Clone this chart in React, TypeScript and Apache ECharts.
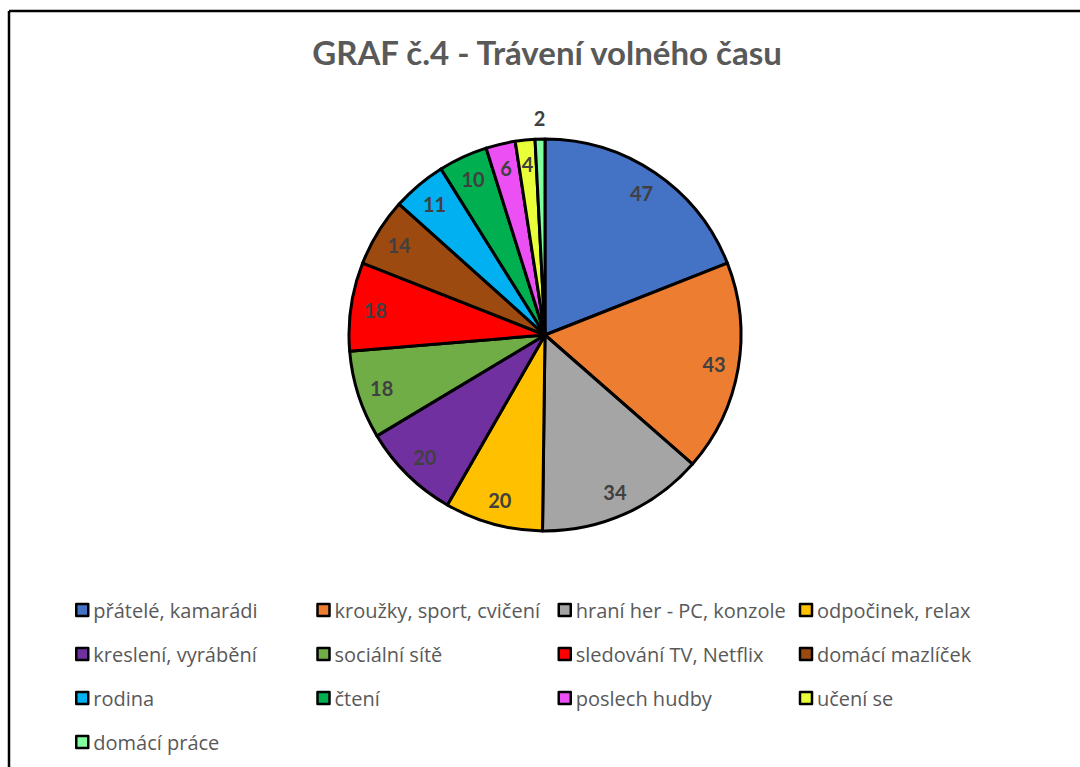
import React, { useEffect, useRef } from "react";
import * as echarts from "echarts";

const titleText = "GRAF č.4 - Trávení volného času";

const categories = [
  "přátelé, kamarádi",
  "kroužky, sport, cvičení",
  "hraní her - PC, konzole",
  "odpočinek, relax",
  "kreslení, vyrábění",
  "sociální sítě",
  "sledování TV, Netflix",
  "domácí mazlíček",
  "rodina",
  "čtení",
  "poslech hudby",
  "učení se",
  "domácí práce",
];

const values = [47, 43, 34, 20, 20, 18, 18, 14, 11, 10, 6, 4, 2];

const colors = [
  "#4472C4",
  "#ED7D31",
  "#A5A5A5",
  "#FFC000",
  "#7030A0",
  "#70AD47",
  "#FF0000",
  "#9C4A0F",
  "#00B0F0",
  "#00B050",
  "#EC50F5",
  "#E8FF3A",
  "#80FF9F",
];

// indices whose value label sits outside the pie
const outsideLabels = [12];

const FONT = "Lato";
const LEGEND_FONT = "Open Sans";

export default function App() {
  const ref = useRef<HTMLDivElement>(null);

  useEffect(() => {
    if (!ref.current) return;
    const chart = echarts.init(ref.current, null, { renderer: "svg" });
    const R = 196;
    const center = [545, 335];

    const labelStyle = {
      show: true,
      position: "inside",
      formatter: "{c}",
      color: "#404040",
      fontWeight: "bold",
      fontSize: 20,
      fontFamily: FONT,
    };

    chart.setOption({
      animation: false,
      backgroundColor: "#ffffff",
      title: {
        text: titleText,
        left: 547,
        textAlign: "center",
        top: 35,
        padding: 0,
        textStyle: {
          color: "#595959",
          fontSize: 33,
          fontWeight: "bold",
          fontFamily: FONT,
        },
      },
      legend: {
        data: categories,
        left: 75,
        top: 593,
        padding: 0,
        width: 960,
        orient: "horizontal",
        icon: "rect",
        itemWidth: 12,
        itemHeight: 12,
        itemGap: 10,
        itemStyle: { borderColor: "#000", borderWidth: 2.5 },
        selectedMode: false,
        formatter: "{a|{name}}",
        textStyle: {
          color: "#595959",
          fontSize: 20,
          fontFamily: LEGEND_FONT,
          rich: {
            a: {
              width: 213,
              height: 34,
              lineHeight: 34,
              color: "#595959",
              fontSize: 20,
              fontFamily: LEGEND_FONT,
            },
          },
        },
      },
      graphic: [
        {
          type: "line",
          shape: { x1: 9, y1: 11, x2: 9, y2: 767 },
          style: { stroke: "#000", lineWidth: 2.5 },
        },
        {
          type: "line",
          shape: { x1: 9, y1: 11, x2: 1080, y2: 11 },
          style: { stroke: "#000", lineWidth: 2.5 },
        },
      ],
      series: [
        {
          type: "pie",
          center,
          radius: [0, R],
          startAngle: 90,
          clockwise: true,
          avoidLabelOverlap: false,
          label: { show: false },
          labelLine: { show: false },
          emphasis: { disabled: true },
          itemStyle: { borderColor: "#000", borderWidth: 3 },
          data: categories.map((name, i) => ({
            name,
            value: values[i],
            itemStyle: { color: colors[i] },
          })),
        },
        {
          type: "pie",
          center,
          radius: [R * 0.72, R],
          startAngle: 90,
          clockwise: true,
          silent: true,
          avoidLabelOverlap: false,
          emphasis: { disabled: true },
          itemStyle: { color: "rgba(0,0,0,0)", borderWidth: 0 },
          label: labelStyle,
          labelLine: { show: false },
          data: categories.map((name, i) => ({
            name,
            value: values[i],
            label: { show: !outsideLabels.includes(i) },
          })),
        },
        {
          type: "pie",
          center,
          radius: [R, R * 1.18],
          startAngle: 90,
          clockwise: true,
          silent: true,
          avoidLabelOverlap: false,
          emphasis: { disabled: true },
          itemStyle: { color: "rgba(0,0,0,0)", borderWidth: 0 },
          label: labelStyle,
          labelLine: { show: false },
          data: categories.map((name, i) => ({
            name,
            value: values[i],
            label: { show: outsideLabels.includes(i) },
          })),
        },
      ],
    });

    return () => chart.dispose();
  }, []);

  return (
    <div
      ref={ref}
      style={{
        position: "absolute",
        left: 0,
        top: 0,
        width: 1080,
        height: 767,
        background: "#fff",
      }}
    />
  );
}
